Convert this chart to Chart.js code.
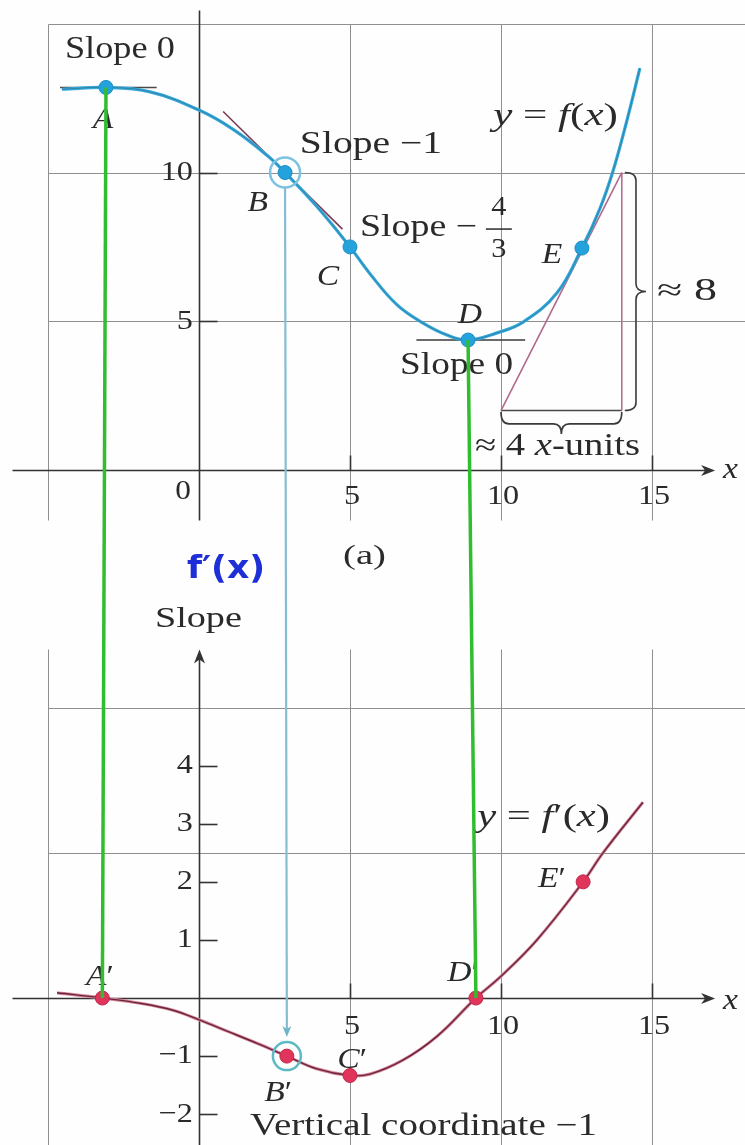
<!DOCTYPE html>
<html>
<head>
<meta charset="utf-8">
<script src="https://cdn.jsdelivr.net/npm/chart.js@4/dist/chart.umd.min.js"></script>
<style>
  html, body { margin: 0; padding: 0; background: #ffffff; }
  canvas { display: block; }
</style>
</head>
<body>
<canvas id="fig" width="745" height="1145"></canvas>
<script>
// ---- y = f(x), sampled along the curve ----
const fX = [-4.54, -3.08, -1.62, 0, 1.13, 2.25, 2.85, 3.91, 5.0, 5.66, 6.56, 7.42, 8.21, 8.91, 9.87, 10.73, 11.85, 12.68, 13.28, 13.71, 14.17, 14.6];
const fY = [12.8, 12.86, 12.71, 12.1, 11.45, 10.58, 10.0, 8.85, 7.5, 6.6, 5.55, 4.94, 4.54, 4.37, 4.61, 4.97, 5.95, 7.46, 8.8, 10.05, 11.75, 13.51];

// ---- y = f'(x), the slope of f ----
const dX = [-4.7, -3.2, -1.95, -0.86, 0.03, 0.93, 1.92, 2.91, 3.91, 5.0, 5.66, 6.75, 7.88, 9.17, 9.97, 11.19, 12.72, 13.38, 14.7];
const dY = [0.09, 0, -0.09, -0.21, -0.38, -0.57, -0.78, -1.0, -1.22, -4 / 3, -1.31, -1.07, -0.66, 0, 0.36, 1.0, 2.0, 2.5, 3.37];

// ---- marked points A..E on f and A'..E' on f' ----
const ptX = [-3.08, 2.85, 5.0, 8.91, 12.68];
const ptY = [12.86, 10.0, 7.5, 4.37, 7.46];
const slopePtX = [-3.2, 2.91, 5.0, 9.17, 12.72];
const slopePtY = [0, -1, -4 / 3, 0, 2];

// ---- tangent segments ----
const tanAX = [-4.6, -1.4],  tanAY = [12.86, 12.86];
const tanBX = [0.8, 4.75],   tanBY = [12.05, 8.1];
const tanCX = [4.4, 5.6],    tanCY = [8.3, 6.7];
const tanDX = [7.2, 10.8],   tanDY = [4.37, 4.37];
// rise-over-run triangle for the tangent at E
const runX = [10, 14],  runY = [2, 2];
const riseX = [14, 14], riseY = [2, 10];
const hypX = [10, 14],  hypY = [2, 10];

// ---- grid and ticks ----
const gridX = [-5, 5, 10, 15];
const topGridY = [5, 10, 15];
const botGridY = [2.5, 5];
const topXTicks = [5, 10, 15];
const topXTickLabels = ['5', '10', '15'];
const topYTicks = [5, 10];
const topYTickLabels = ['5', '10'];
const botXTicks = [5, 10, 15];
const botXTickLabels = ['5', '10', '15'];
const botYTicks = [-2, -1, 1, 2, 3, 4];
const botYTickLabels = ['\u22122', '\u22121', '1', '2', '3', '4'];

// ---- axis ranges (one shared x, two stacked y panels) ----
const X_MIN = -6.589, X_MAX = 18.08;
const Y_MIN = -22.69, Y_MAX = 15.8;    // upper panel: f
const S_MIN = -2.53,  S_MAX = 17.18;   // lower panel: f'

const SERIF = '"Liberation Serif", "Times New Roman", serif';
const INK = '#2a2a2a';
const GRID = '#8f8f8f';
const AXIS = '#333333';

// text annotations: segments [text, italic], anchored in data units
const topNotes = [
  { s: [['Slope 0']], x0: -4.44, x1: -0.80, y: 14.12, size: 31 },
  { s: [['A', 1]], x: -3.18, y: 11.76, size: 30 },
  { s: [['B', 1]], x: 1.95, y: 8.97, size: 30 },
  { s: [['C', 1]], x: 4.27, y: 6.49, size: 30 },
  { s: [['D', 1]], x: 8.97, y: 5.21, size: 30 },
  { s: [['E', 1]], x: 11.69, y: 7.23, size: 30 },
  { s: [['Slope \u22121']], x0: 3.34, x1: 8.05, y: 10.92, size: 31 },
  { s: [['Slope \u2212']], x0: 5.33, x1: 9.21, y: 8.15, size: 31 },
  { s: [['4']], x: 9.93, y: 8.8, size: 27 },
  { s: [['3']], x: 9.93, y: 7.4, size: 27 },
  { s: [['Slope 0']], x0: 6.66, x1: 10.40, y: 3.50, size: 31 },
  { s: [['y', 1], [' = '], ['f', 1], ['('], ['x', 1], [')']], x0: 9.74, x1: 13.87, y: 11.87, size: 31 },
  { s: [['\u2248 8']], x0: 15.17, x1: 17.15, y: 5.98, size: 31 },
  { s: [['\u2248 4 '], ['x', 1], ['-units']], x0: 9.14, x1: 14.60, y: 0.77, size: 31 },
  { s: [['0']], x: -0.53, y: -0.74, size: 28 },
  { s: [['x', 1]], x: 17.6, y: 0.0, size: 30 },
  { s: [['(a)']], x0: 4.77, x1: 6.19, y: -2.92, size: 28 },
  { s: [["f\u2032(x)"]], x0: -0.40, x1: 2.19, y: -3.36, size: 32, color: '#1e2fd8', family: '"DejaVu Sans", sans-serif', weight: 'bold' }
];
const botNotes = [
  { s: [['Slope']], x0: -1.46, x1: 1.42, y: 6.52, size: 30 },
  { s: [['A', 1], ['\u2032']], x: -3.28, y: 0.36, size: 30 },
  { s: [['B', 1], ['\u2032']], x: 2.62, y: -1.64, size: 30 },
  { s: [['C', 1], ['\u2032']], x: 5.07, y: -1.07, size: 30 },
  { s: [['D', 1], ['\u2032']], x: 8.74, y: 0.43, size: 30 },
  { s: [['E', 1], ['\u2032']], x: 11.69, y: 2.05, size: 30 },
  { s: [['y', 1], [' = '], ['f', 1], ['\u2032('], ['x', 1], [')']], x0: 9.21, x1: 13.61, y: 3.10, size: 31 },
  { s: [['Vertical coordinate \u22121']], x0: 1.69, x1: 13.18, y: -2.22, size: 31 },
  { s: [['x', 1]], x: 17.6, y: -0.05, size: 30 }
];

function pts(xs, ys) { return xs.map((x, i) => ({ x: x, y: ys[i] })); }

// draws mixed upright/italic text, optionally stretched to a given width
function rich(ctx, segs, cx, cy, size, o) {
  o = o || {};
  ctx.save();
  ctx.fillStyle = o.color || INK;
  ctx.textBaseline = 'middle';
  const fam = o.family || SERIF;
  const fonts = segs.map(s => (s[1] ? 'italic ' : '') + (o.weight ? o.weight + ' ' : '') + size + 'px ' + fam);
  let w = 0;
  const ws = segs.map((s, i) => { ctx.font = fonts[i]; const m = ctx.measureText(s[0]).width; w += m; return m; });
  const sx = o.width ? o.width / w : (o.sx || 1.15);
  let left = cx - w * sx / 2;
  if (o.align === 'right') left = cx - w * sx;
  if (o.align === 'left') left = cx;
  ctx.translate(left, cy);
  ctx.scale(sx, 1);
  let pos = 0;
  segs.forEach((s, i) => { ctx.font = fonts[i]; ctx.fillText(s[0], pos, 0); pos += ws[i]; });
  ctx.restore();
}

function line(ctx, x0, y0, x1, y1) {
  ctx.beginPath(); ctx.moveTo(x0, y0); ctx.lineTo(x1, y1); ctx.stroke();
}

function arrowRight(ctx, px, py) {
  ctx.beginPath();
  ctx.moveTo(px, py); ctx.lineTo(px - 14, py - 5.5); ctx.lineTo(px - 10, py); ctx.lineTo(px - 14, py + 5.5);
  ctx.closePath(); ctx.fill();
}
function arrowUp(ctx, px, py) {
  ctx.beginPath();
  ctx.moveTo(px, py); ctx.lineTo(px - 5.5, py + 14); ctx.lineTo(px, py + 10); ctx.lineTo(px + 5.5, py + 14);
  ctx.closePath(); ctx.fill();
}
function arrowDown(ctx, px, py) {
  ctx.beginPath();
  ctx.moveTo(px, py); ctx.lineTo(px - 4.5, py - 11); ctx.lineTo(px, py - 8); ctx.lineTo(px + 4.5, py - 11);
  ctx.closePath(); ctx.fill();
}

// vertical "}" brace between pixel rows yTop..yBot
function braceV(ctx, hookX, spineX, tipX, yTop, yBot) {
  const mid = (yTop + yBot) / 2, r = 8;
  ctx.beginPath();
  ctx.moveTo(hookX, yTop);
  ctx.quadraticCurveTo(spineX, yTop, spineX, yTop + r);
  ctx.lineTo(spineX, mid - r);
  ctx.quadraticCurveTo(spineX, mid, tipX, mid);
  ctx.quadraticCurveTo(spineX, mid, spineX, mid + r);
  ctx.lineTo(spineX, yBot - r);
  ctx.quadraticCurveTo(spineX, yBot, hookX, yBot);
  ctx.stroke();
}
// horizontal brace opening upward between pixel columns xL..xR
function braceH(ctx, hookY, spineY, tipY, xL, xR) {
  const mid = (xL + xR) / 2, r = 8;
  ctx.beginPath();
  ctx.moveTo(xL, hookY);
  ctx.quadraticCurveTo(xL, spineY, xL + r, spineY);
  ctx.lineTo(mid - r, spineY);
  ctx.quadraticCurveTo(mid, spineY, mid, tipY);
  ctx.quadraticCurveTo(mid, spineY, mid + r, spineY);
  ctx.lineTo(xR - r, spineY);
  ctx.quadraticCurveTo(xR, spineY, xR, hookY);
  ctx.stroke();
}

const figurePlugin = {
  id: 'figure',
  beforeDraw(chart) {
    const ctx = chart.ctx;
    ctx.save();
    ctx.fillStyle = '#fefefe';
    ctx.fillRect(0, 0, chart.width, chart.height);
    ctx.restore();
  },
  beforeDatasetsDraw(chart) {
    const ctx = chart.ctx, X = chart.scales.x, Y = chart.scales.y, S = chart.scales.y2;
    const px = v => Math.round(X.getPixelForValue(v)) + 0.5;
    const py = v => Math.round(Y.getPixelForValue(v)) + 0.5;
    const ps = v => Math.round(S.getPixelForValue(v)) + 0.5;
    ctx.save();

    // grid: upper panel
    ctx.strokeStyle = GRID; ctx.lineWidth = 1;
    gridX.forEach(g => line(ctx, px(g), py(15), px(g), py(-1.68)));
    topGridY.forEach(g => line(ctx, px(-5), py(g), px(X_MAX), py(g)));
    // grid: lower panel
    gridX.forEach(g => line(ctx, px(g), ps(6), px(g), ps(S_MIN)));
    botGridY.forEach(g => line(ctx, px(-5), ps(g), px(X_MAX), ps(g)));

    // axes
    ctx.strokeStyle = AXIS; ctx.fillStyle = AXIS; ctx.lineWidth = 1.6;
    const xEnd = 17.09;
    line(ctx, px(-6.2), py(0), px(xEnd) - 8, py(0));
    arrowRight(ctx, X.getPixelForValue(xEnd), py(0));
    line(ctx, px(0), py(15.46), px(0), py(-1.68));
    line(ctx, px(-6.2), ps(0), px(xEnd) - 8, ps(0));
    arrowRight(ctx, X.getPixelForValue(xEnd), ps(0));
    line(ctx, px(0), ps(6) + 8, px(0), ps(S_MIN));
    arrowUp(ctx, px(0), S.getPixelForValue(6));

    // tick marks
    ctx.lineWidth = 1.6;
    topXTicks.forEach(t => line(ctx, px(t), py(0), px(t), py(0) - 15));
    botXTicks.forEach(t => line(ctx, px(t), ps(0), px(t), ps(0) - 15));
    topYTicks.forEach(t => line(ctx, px(0), py(t), px(0) + 18, py(t)));
    botYTicks.forEach(t => line(ctx, px(0), ps(t), px(0) + 18, ps(t)));
    ctx.restore();
  },
  afterDatasetsDraw(chart) {
    const ctx = chart.ctx, X = chart.scales.x, Y = chart.scales.y, S = chart.scales.y2;
    const gx = v => X.getPixelForValue(v);
    const gy = v => Y.getPixelForValue(v);
    const gs = v => S.getPixelForValue(v);
    ctx.save();

    // braces marking rise and run
    ctx.strokeStyle = '#3a3a3a'; ctx.lineWidth = 1.6;
    braceV(ctx, gx(14.1), gx(14.47), gx(14.8), gy(10), gy(2));
    braceH(ctx, gy(1.95), gy(1.55), gy(1.21), gx(10), gx(14));

    // fraction bar of -4/3
    ctx.lineWidth = 1.5; ctx.strokeStyle = INK;
    line(ctx, gx(9.5), gy(8.1), gx(10.36), gy(8.1));

    // tick labels
    topXTicks.forEach((t, i) => rich(ctx, [[topXTickLabels[i]]], gx(t) + 2, gy(-0.88), 28));
    botXTicks.forEach((t, i) => rich(ctx, [[botXTickLabels[i]]], gx(t) + 2, gs(-0.5), 28));
    topYTicks.forEach((t, i) => rich(ctx, [[topYTickLabels[i]]], gx(-0.2), gy(t), 28, { align: 'right' }));
    botYTicks.forEach((t, i) => rich(ctx, [[botYTickLabels[i]]], gx(-0.2), gs(t), 28, { align: 'right' }));

    // annotations
    const put = (n, toY) => {
      const o = { color: n.color, family: n.family, weight: n.weight };
      let cx;
      if (n.x0 !== undefined) { cx = (gx(n.x0) + gx(n.x1)) / 2; o.width = gx(n.x1) - gx(n.x0); }
      else { cx = gx(n.x); o.sx = 1.12; }
      rich(ctx, n.s, cx, toY(n.y), n.size, o);
    };
    topNotes.forEach(n => put(n, gy));
    botNotes.forEach(n => put(n, gs));

    // connectors from each point on f to its slope point on f'
    ctx.strokeStyle = '#31bd2f'; ctx.lineWidth = 3.5; ctx.lineCap = 'butt';
    line(ctx, gx(ptX[0]), gy(ptY[0]), gx(slopePtX[0]), gs(slopePtY[0]));
    line(ctx, gx(ptX[3]), gy(ptY[3]), gx(slopePtX[3]), gs(slopePtY[3]));
    ctx.strokeStyle = '#86bdd2'; ctx.fillStyle = '#6fb4c8'; ctx.lineWidth = 2.2;
    const tipY = gs(slopePtY[1]) - 19;
    line(ctx, gx(ptX[1]), gy(ptY[1]) + 15, gx(slopePtX[1]), tipY - 6);
    arrowDown(ctx, gx(slopePtX[1]), tipY);
    ctx.restore();
  }
};

const curve = { showLine: true, tension: 0.4, cubicInterpolationMode: 'default', pointRadius: 0 };

new Chart(document.getElementById('fig').getContext('2d'), {
  type: 'scatter',
  data: {
    datasets: [
      { data: pts(ptX, ptY), yAxisID: 'y', pointRadius: 7, pointBackgroundColor: '#23a2dc', pointBorderColor: '#1d8fc4', pointBorderWidth: 1, order: 0 },
      { data: pts(slopePtX, slopePtY), yAxisID: 'y2', pointRadius: 7, pointBackgroundColor: '#e0345a', pointBorderColor: '#c4284a', pointBorderWidth: 1, order: 0 },
      { data: [{ x: ptX[1], y: ptY[1] }], yAxisID: 'y', pointRadius: 15, pointBackgroundColor: 'rgba(0,0,0,0)', pointBorderColor: '#7cc2e2', pointBorderWidth: 2.5, order: 1 },
      { data: [{ x: slopePtX[1], y: slopePtY[1] }], yAxisID: 'y2', pointRadius: 14, pointBackgroundColor: 'rgba(0,0,0,0)', pointBorderColor: '#5cbac4', pointBorderWidth: 2.5, order: 1 },
      Object.assign({ data: pts(fX, fY), yAxisID: 'y', borderColor: '#35a9dc', borderWidth: 3.2, order: 3 }, curve),
      Object.assign({ data: pts(fX, fY), yAxisID: 'y', borderColor: 'rgba(40,80,95,0.55)', borderWidth: 0.8, order: 2 }, curve),
      Object.assign({ data: pts(dX, dY), yAxisID: 'y2', borderColor: '#d98aa0', borderWidth: 3.2, order: 3 }, curve),
      Object.assign({ data: pts(dX, dY), yAxisID: 'y2', borderColor: '#6a2537', borderWidth: 1.4, order: 2 }, curve),
      { data: pts(tanAX, tanAY), yAxisID: 'y', showLine: true, borderColor: '#4a4a4a', borderWidth: 1.6, pointRadius: 0, order: 4 },
      { data: pts(tanBX, tanBY), yAxisID: 'y', showLine: true, borderColor: '#7b3a57', borderWidth: 1.6, pointRadius: 0, order: 4 },
      { data: pts(tanCX, tanCY), yAxisID: 'y', showLine: true, borderColor: '#4a3a40', borderWidth: 1.6, pointRadius: 0, order: 4 },
      { data: pts(tanDX, tanDY), yAxisID: 'y', showLine: true, borderColor: '#3a3a3a', borderWidth: 1.6, pointRadius: 0, order: 4 },
      { data: pts(hypX, hypY), yAxisID: 'y', showLine: true, borderColor: '#b06a8c', borderWidth: 1.6, pointRadius: 0, order: 4 },
      { data: pts(riseX, riseY), yAxisID: 'y', showLine: true, borderColor: '#b56f8e', borderWidth: 1.6, pointRadius: 0, order: 4 },
      { data: pts(runX, runY), yAxisID: 'y', showLine: true, borderColor: '#4a4a4a', borderWidth: 1.6, pointRadius: 0, order: 4 }
    ]
  },
  options: {
    responsive: false,
    animation: false,
    devicePixelRatio: 1,
    events: [],
    layout: { padding: 0, autoPadding: false },
    plugins: { legend: { display: false }, tooltip: { enabled: false } },
    scales: {
      x: { type: 'linear', min: X_MIN, max: X_MAX, display: false },
      y: { type: 'linear', position: 'left', min: Y_MIN, max: Y_MAX, display: false },
      y2: { type: 'linear', position: 'left', min: S_MIN, max: S_MAX, display: false }
    }
  },
  plugins: [figurePlugin]
});
</script>
</body>
</html>
